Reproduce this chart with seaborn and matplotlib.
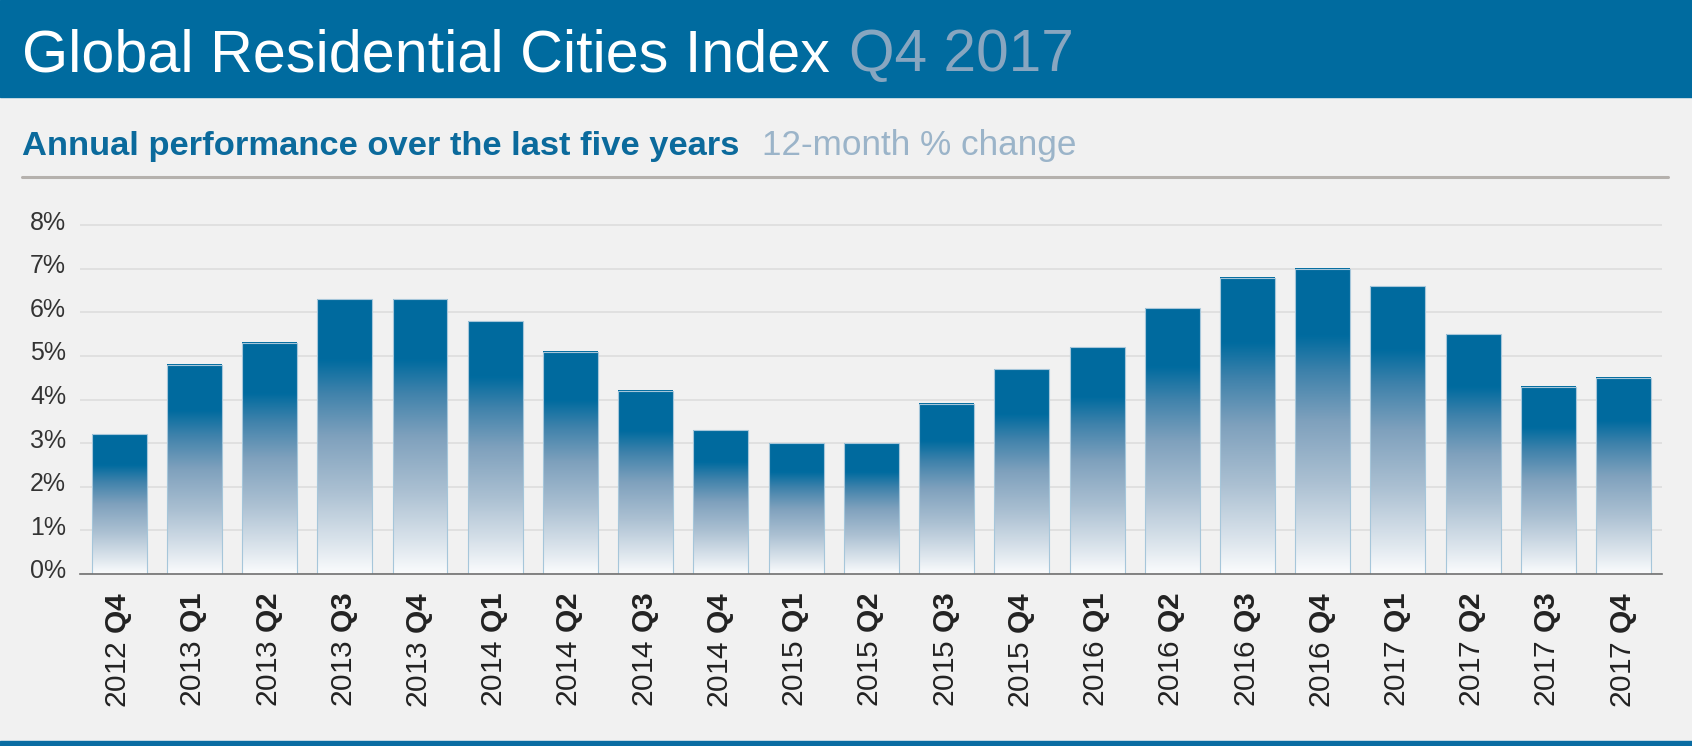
import matplotlib
matplotlib.use('agg')
import matplotlib.pyplot as plt
from matplotlib.colors import LinearSegmentedColormap
from matplotlib.lines import Line2D
from matplotlib.patches import Rectangle
from matplotlib.transforms import ScaledTranslation
import numpy as np
import pandas as pd
import seaborn as sns

# data
years = ['2012', '2013', '2013', '2013', '2013', '2014', '2014', '2014', '2014',
         '2015', '2015', '2015', '2015', '2016', '2016', '2016', '2016',
         '2017', '2017', '2017', '2017']
quarters = ['Q4', 'Q1', 'Q2', 'Q3', 'Q4', 'Q1', 'Q2', 'Q3', 'Q4',
            'Q1', 'Q2', 'Q3', 'Q4', 'Q1', 'Q2', 'Q3', 'Q4',
            'Q1', 'Q2', 'Q3', 'Q4']
change = [3.2, 4.8, 5.3, 6.3, 6.3, 5.8, 5.1, 4.2, 3.3, 3.0, 3.0,
          3.9, 4.7, 5.2, 6.1, 6.8, 7.0, 6.6, 5.5, 4.3, 4.5]
yticks = [0, 1, 2, 3, 4, 5, 6, 7, 8]

BLUE = '#006b9f'
BG = '#f1f1f1'

sns.set_theme(style='white', rc={'figure.facecolor': BG, 'axes.facecolor': BG})
plt.rcParams['font.family'] = ['Liberation Sans', 'DejaVu Sans']
plt.rcParams['mathtext.fontset'] = 'custom'
plt.rcParams['mathtext.rm'] = 'Liberation Sans'
plt.rcParams['mathtext.bf'] = 'Liberation Sans:bold'

W, H = 1692, 746
fig = plt.figure(figsize=(W / 100, H / 100), dpi=100)
# axes box in pixels: left 80, right 1662, zero line at 574, 1% = 43.6 px
ymax = 8.1
top_px = 574 - ymax * 43.6
ax = fig.add_axes([80 / W, (H - 574) / H, (1662 - 80) / W, (574 - top_px) / H])

df = pd.DataFrame({'period': [f'{y} {q}' for y, q in zip(years, quarters)],
                   'change': change})
sns.barplot(data=df, x='period', y='change', ax=ax, color=BLUE, width=0.73,
            edgecolor='#a6c6da', linewidth=0.8, zorder=3)

# per-bar vertical gradient, dark on top fading to white at the base
fade = LinearSegmentedColormap.from_list('fade', [
    (0.0, '#fbfcfd'), (0.1, '#dfe7ee'), (0.3, '#abc0d2'), (0.5, '#7fa1bd'),
    (0.66, '#3f82ab'), (0.78, '#006b9f'), (1.0, '#006a9e')])
grad = np.linspace(0, 1, 256).reshape(-1, 1)
for p in ax.patches:
    x0, w, h = p.get_x(), p.get_width(), p.get_height()
    ax.imshow(grad, extent=[x0, x0 + w, 0, h], origin='lower', aspect='auto',
              cmap=fade, zorder=2, interpolation='bicubic')
    p.set_facecolor('none')

ax.set_xlim(-0.52, len(change) - 0.49)
ax.set_ylim(0, ymax)
ax.set_yticks(yticks)
ax.set_yticklabels([f'{v}%' for v in yticks], fontsize=18, color='#333333')
ax.set_xticks(range(len(change)))
ax.set_xticklabels([f'{y} $\\mathbf{{{q}}}$' for y, q in zip(years, quarters)],
                   rotation=90, fontsize=21.5, color='#222222')
ax.tick_params(axis='y', length=0, pad=10)
ax.tick_params(axis='x', length=0, pad=12.5)
up = ScaledTranslation(0, 5 / 100, fig.dpi_scale_trans)
for lab in ax.get_yticklabels():
    lab.set_transform(lab.get_transform() + up)
ax.set_xlabel('')
ax.set_ylabel('')
ax.set_axisbelow(True)
ax.yaxis.grid(True, color='#dcdcdc', linewidth=1.1)
for s in ['top', 'right', 'left']:
    ax.spines[s].set_visible(False)
ax.spines['bottom'].set_color('#707070')
ax.spines['bottom'].set_linewidth(1.2)
ax.spines['bottom'].set_zorder(4)

# header band and footer strip
fig.add_artist(Rectangle((0, 1 - 96.5 / H), 1, 96.5 / H, transform=fig.transFigure,
                         color=BLUE, zorder=0))
fig.add_artist(Rectangle((0, 0), 1, 5 / H, transform=fig.transFigure,
                         color='#0a6ca2', zorder=0))

fig.text(22 / W, 1 - 71 / H, 'Global Residential Cities Index', fontsize=42.7,
         color='white', va='baseline')
fig.text(849 / W, 1 - 71 / H, 'Q4 2017', fontsize=42.2, color='#88a6c0', va='baseline')
fig.text(22 / W, 1 - 155 / H, 'Annual performance over the last five years',
         fontsize=24.8, fontweight='bold', color='#0b6a9c', va='baseline')
fig.text(762 / W, 1 - 155 / H, '12-month % change', fontsize=25.3, color='#9bb4c9',
         va='baseline')
fig.add_artist(Line2D([22 / W, 1668 / W], [1 - 177 / H, 1 - 177 / H],
                      transform=fig.transFigure, color='#b5b1ad', linewidth=2.2))

fig.savefig('out.png', dpi=100, facecolor=BG)
